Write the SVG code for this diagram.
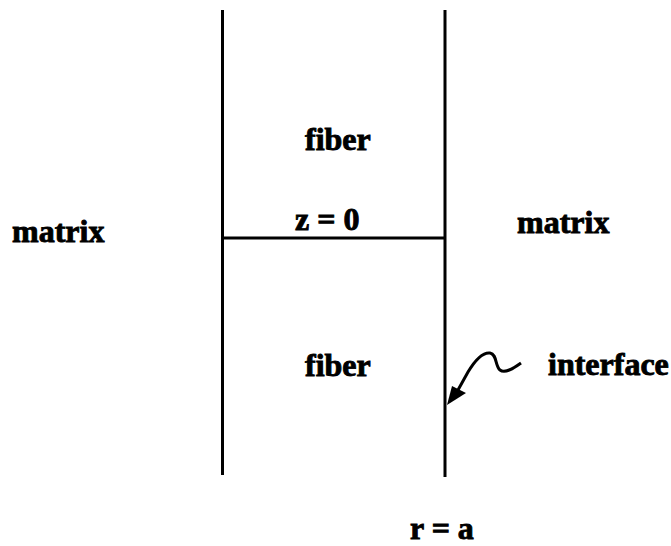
<svg xmlns="http://www.w3.org/2000/svg" width="671" height="546" viewBox="0 0 671 546">
<style>
.t{font-family:"Liberation Serif","Times New Roman",serif;font-weight:bold;font-size:32px;fill:#000;stroke:#000;stroke-width:0.9}
.l{stroke:#000;stroke-width:3;fill:none;stroke-linecap:butt}
</style>
<rect width="671" height="546" fill="#fff"/>
<g id="connectors">
<line class="l" x1="222.5" y1="10" x2="222.5" y2="475"/>
<line class="l" x1="445" y1="10" x2="445" y2="477"/>
<line class="l" x1="222" y1="238" x2="445" y2="238"/>
<path class="l" d="M521,363 C514,368 505,374 500,370 C495,366 497,354 490,353 C482,352 474,362 468,372 L458,390" stroke-width="3.5"/>
<polygon points="447,405 452,386 466,393" fill="#000"/>
</g>
<g id="fiber-top"><text class="t" x="305" y="150">fiber</text></g>
<g id="fiber-bottom"><text class="t" x="305" y="376">fiber</text></g>
<g id="z0"><text class="t" x="295" y="230">z = 0</text></g>
<g id="matrix-left"><text class="t" x="12" y="242">matrix</text></g>
<g id="matrix-right"><text class="t" x="517" y="233">matrix</text></g>
<g id="interface"><text class="t" x="548" y="375">interface</text></g>
<g id="ra"><text class="t" x="410" y="539">r = a</text></g>
</svg>
